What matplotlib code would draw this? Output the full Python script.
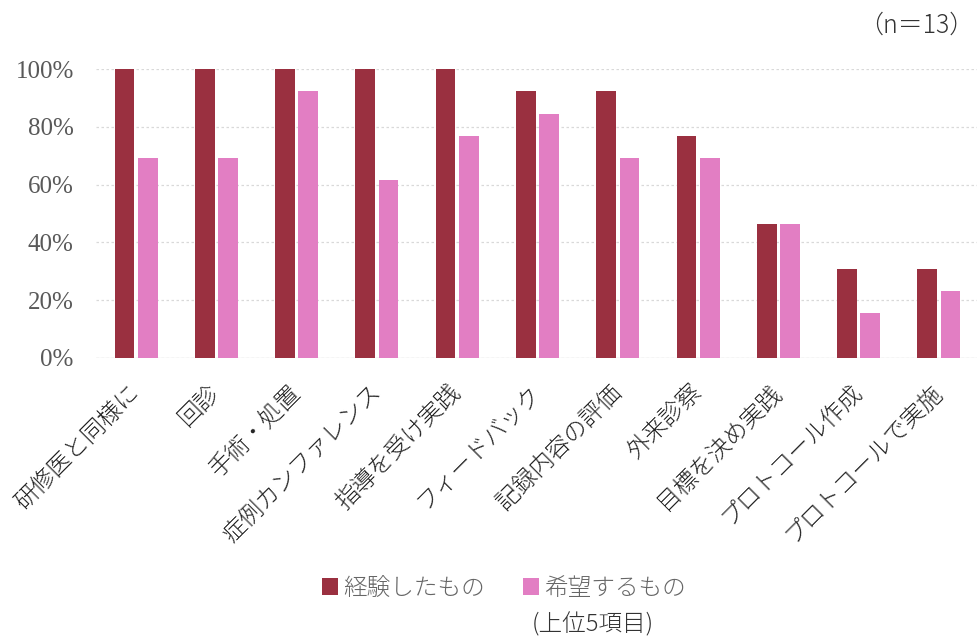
import numpy as np
import matplotlib
matplotlib.use("Agg")
import matplotlib.pyplot as plt

plt.rcParams['font.family'] = ['Noto Sans CJK JP', 'DejaVu Sans']
plt.rcParams['font.weight'] = 'light'

# 回答者13名の割合 (%)
categories = ["研修医と同様に", "回診", "手術・処置", "症例カンファレンス", "指導を受け実践",
              "フィードバック", "記録内容の評価", "外来診察", "目標を決め実践",
              "プロトコール作成", "プロトコールで実施"]
experienced = [100, 100, 100, 100, 100, 92.3, 92.3, 76.9, 46.2, 30.8, 30.8]
desired = [69.2, 69.2, 92.3, 61.5, 76.9, 84.6, 69.2, 69.2, 46.2, 15.4, 23.1]
series_names = ["経験したもの", "希望するもの"]
yticks = [0, 20, 40, 60, 80, 100]

DARK = "#9a3040"
PINK = "#e27ec3"

fig = plt.figure(figsize=(9.78, 6.42), dpi=100)
ax = fig.add_axes([96 / 978, 1 - 358 / 642, 883 / 978, 289 / 642])

x = np.arange(len(categories))
w = 0.245
ax.bar(x - 0.145, experienced, w, color=DARK, label=series_names[0], zorder=3)
ax.bar(x + 0.145, desired, w, color=PINK, label=series_names[1], zorder=3)

ax.set_xlim(-0.5, len(categories) - 0.5)
ax.set_ylim(0, 100)
ax.set_yticks(yticks)
ax.set_yticklabels([f"{v}%" for v in yticks], family="Liberation Serif",
                   fontsize=18, color="#595959")
ax.tick_params(axis="y", length=0, pad=16)

ax.set_xticks(x)
ax.set_xticklabels(categories, rotation=45, ha="right", va="center",
                   rotation_mode="anchor", fontsize=17, color="#222222")
ax.tick_params(axis="x", length=0, pad=22)

ax.yaxis.grid(True, color="#d9d9d9", linestyle=(0, (2, 2)), linewidth=0.9, zorder=0)
for s in ax.spines.values():
    s.set_visible(False)
ax.axhline(0, color="#d9d9d9", linewidth=0.9, zorder=1)

fig.text(974 / 978, 1 - 25 / 642, "（n＝13）", ha="right", va="center",
         fontsize=18, color="#333333")

fig.legend(loc="center", bbox_to_anchor=(0.515, 0.084), ncol=2, frameon=False,
           fontsize=17, handlelength=0.7, handleheight=0.7, handletextpad=0.2,
           columnspacing=1.6, labelcolor="#666666")

fig.text(593 / 978, 1 - 625 / 642, "(上位5項目)", ha="center", va="center",
         fontsize=17, color="#333333")

fig.savefig("out.png", dpi=100)
